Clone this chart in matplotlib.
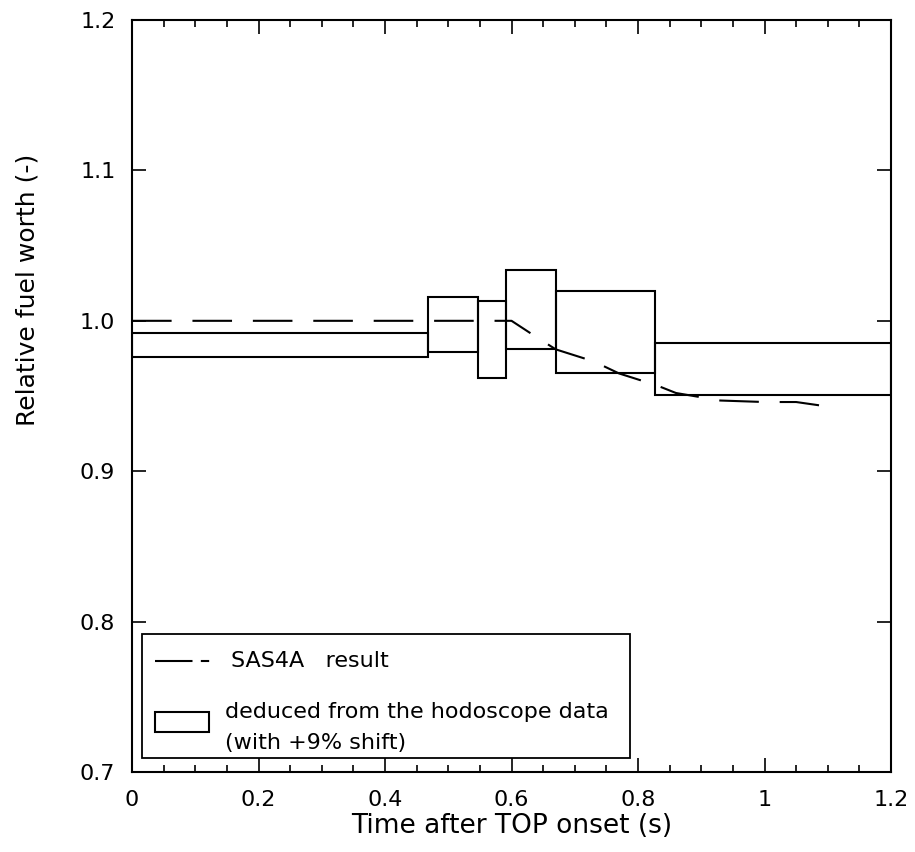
import numpy as np
import matplotlib.pyplot as plt
from matplotlib.patches import Rectangle
from matplotlib.lines import Line2D

# hodoscope boxes (time start/end, lower/upper fuel worth)
box_t0 = [0.0, 0.468, 0.547, 0.591, 0.670, 0.827]
box_t1 = [0.468, 0.547, 0.591, 0.670, 0.827, 1.2]
box_lo = [0.976, 0.979, 0.962, 0.981, 0.965, 0.951]
box_hi = [0.992, 1.016, 1.013, 1.034, 1.020, 0.985]

# SAS4A result
sas_t = [0.0, 0.58, 0.60, 0.64, 0.67, 0.73, 0.77, 0.83, 0.86, 0.93, 1.0, 1.05, 1.10]
sas_y = [1.0, 1.0, 1.0, 0.989, 0.981, 0.973, 0.965, 0.957, 0.952, 0.947, 0.946, 0.946, 0.943]

xticks = [0, 0.2, 0.4, 0.6, 0.8, 1.0, 1.2]
xticklabels = ['0', '0.2', '0.4', '0.6', '0.8', '1', '1.2']
yticks = [0.7, 0.8, 0.9, 1.0, 1.1, 1.2]

plt.rcParams['font.family'] = ['DejaVu Sans']

fig = plt.figure(figsize=(9.15, 8.52), dpi=100)
ax = fig.add_axes([0.1443, 0.0939, 0.8295, 0.8826])

for t0, t1, lo, hi in zip(box_t0, box_t1, box_lo, box_hi):
    ax.add_patch(Rectangle((t0, lo), t1 - t0, hi - lo, fill=False,
                           edgecolor='k', linewidth=1.5))

ax.plot(sas_t, sas_y, color='k', linewidth=1.5, dashes=(19, 10))

ax.set_xlim(0, 1.2)
ax.set_ylim(0.7, 1.2)
ax.set_xticks(xticks)
ax.set_xticklabels(xticklabels)
ax.set_xticks(np.arange(0, 1.2001, 0.05), minor=True)
ax.set_yticks(yticks)
ax.set_yticklabels(['%.1f' % v for v in yticks])
ax.tick_params(which='both', direction='in', top=True, right=True,
               labelsize=16, width=1.2)
ax.tick_params(which='major', length=10)
ax.tick_params(which='minor', length=5)
ax.tick_params(axis='x', pad=13)
ax.tick_params(axis='y', pad=12)
for s in ax.spines.values():
    s.set_linewidth(1.5)

ax.set_xlabel('Time after TOP onset (s)', fontsize=19, labelpad=2)
ax.set_ylabel('Relative fuel worth (-)', fontsize=18)
ax.yaxis.set_label_coords(-0.122, 0.641)

# legend box
ax.add_patch(Rectangle((0.013, 0.019), 0.643, 0.165, transform=ax.transAxes,
                       fill=False, edgecolor='k', linewidth=1.3, zorder=5))
ax.add_line(Line2D([0.030, 0.103], [0.148, 0.148], transform=ax.transAxes,
                   color='k', linewidth=1.5, dashes=(18, 4, 4, 4)))
ax.text(0.131, 0.148, 'SAS4A   result', transform=ax.transAxes,
        fontsize=16, va='center', ha='left')
ax.add_patch(Rectangle((0.030, 0.053), 0.072, 0.027, transform=ax.transAxes,
                       fill=False, edgecolor='k', linewidth=1.5))
ax.text(0.122, 0.080, 'deduced from the hodoscope data', transform=ax.transAxes,
        fontsize=16, va='center', ha='left')
ax.text(0.122, 0.039, '(with +9% shift)', transform=ax.transAxes,
        fontsize=16, va='center', ha='left')

fig.savefig('out.png', dpi=100)
